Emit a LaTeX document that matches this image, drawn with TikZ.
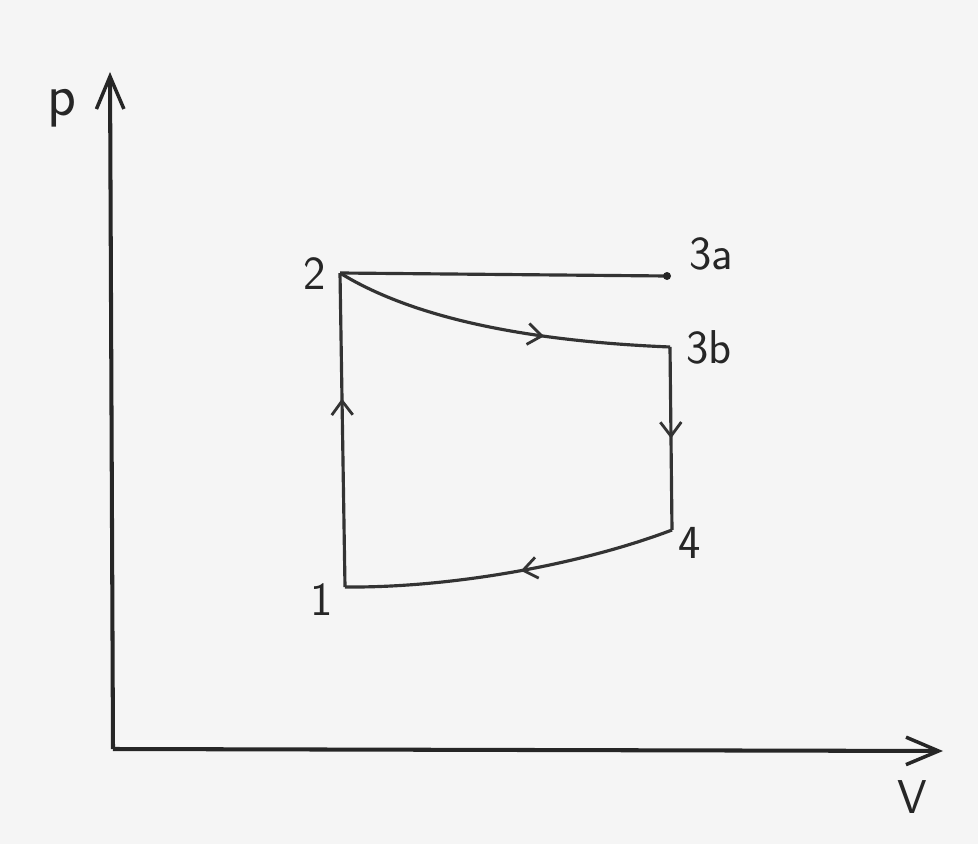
\documentclass[tikz,border=0pt]{standalone}
\usepackage{amsmath,amssymb}
\usepackage{xcolor}
\usepackage{tikz}
\usetikzlibrary{arrows.meta,decorations.markings}

\begin{document}
\begin{tikzpicture}[x=0.2mm,y=-0.2mm,
  font=\fontsize{27}{30}\selectfont\sffamily,
  axis/.style={line width=2.3pt,draw=black!85,-{Straight Barb[length=6.5mm,width=5.5mm,line width=2pt]}},
  cycle/.style={line width=1.8pt,draw=black!80},
  midarrow/.style={postaction={decorate},decoration={markings,
    mark=at position #1 with {\arrow{Straight Barb[length=2.8mm,width=4.2mm,line width=1.6pt]}}}},
  lbl/.style={text=black!85,inner sep=0pt}]
  \useasboundingbox (0,0) rectangle (978,844);
  \fill[white!96!black] (0,0) rectangle (978,844);
  % axes
  \coordinate (o) at (113,749);
  \coordinate (ptop) at (110,72);
  \coordinate (vend) at (943,751);
  \draw[axis] (o) -- (ptop);
  \draw[axis] (o) -- (vend);
  \node[lbl,font=\fontsize{34}{36}\selectfont\sffamily] (plabel) at (62,108) {p};
  \node[lbl] (vlabel) at (912,797) {V};
  % cycle points
  \coordinate (p1) at (345,587);
  \coordinate (p2) at (340,273);
  \coordinate (p3a) at (667,276);
  \coordinate (p3b) at (670,347);
  \coordinate (p4) at (672,530);
  \draw[cycle] (p2) -- (p3a);
  \fill[black!85] (p3a) circle (4);
  \draw[cycle,midarrow=0.63] (p2) .. controls (400,310) and (500,340) .. (p3b);
  \draw[cycle,midarrow=0.5] (p3b) -- (p4);
  \draw[cycle,midarrow=0.47] (p4) .. controls (580,565) and (450,588) .. (p1);
  \draw[cycle,midarrow=0.6] (p1) -- (p2);
  % labels
  \node[lbl] (l1) at (322,600) {1};
  \node[lbl] (l2) at (315,274) {2};
  \node[lbl] (l3a) at (711,254) {3a};
  \node[lbl] (l3b) at (709,347) {3b};
  \node[lbl] (l4) at (690,543) {4};
\end{tikzpicture}
\end{document}
